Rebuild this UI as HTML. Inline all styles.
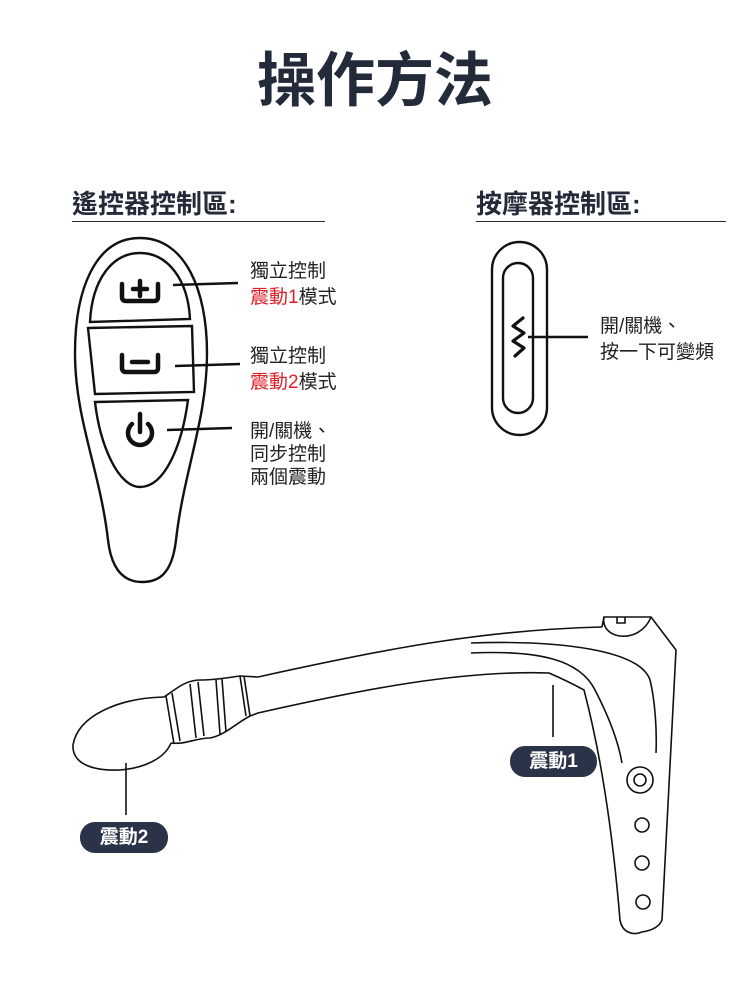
<!DOCTYPE html>
<html><head><meta charset="utf-8"><style>
html,body{margin:0;padding:0;background:#fff;}
body{width:750px;height:990px;position:relative;overflow:hidden;font-family:"Liberation Sans","Noto Sans CJK TC",sans-serif;}
.t{position:absolute;white-space:nowrap;}
.h{color:#232a3a;font-weight:bold;}
.lb{font-size:19px;color:#222;line-height:24px;}
.red{color:#e0202a;}
.pill{position:absolute;background:#2a3347;color:#fff;font-weight:bold;font-size:19px;border-radius:15px;text-align:center;line-height:31px;}
</style></head><body>
<div class="t h" style="left:0;width:750px;text-align:center;top:45px;font-size:59px;line-height:72px;">操作方法</div>
<div class="t h" style="left:72px;top:184px;font-size:26px;">遙控器控制區:</div>
<div style="position:absolute;left:72px;top:221px;width:253px;height:1px;background:#232a3a"></div>
<div class="t h" style="left:476px;top:184px;font-size:26px;">按摩器控制區:</div>
<div style="position:absolute;left:476px;top:221px;width:250px;height:1px;background:#232a3a"></div>

<svg width="750" height="990" style="position:absolute;left:0;top:0" fill="none" stroke="#111" stroke-width="2.4">
<!-- remote -->
<path d="M140,238 C95,238 75,290 75,353 C75,420 100,470 108,540 C112,575 128,582 142,582 C158,582 172,575 176,540 C184,470 207,420 207,353 C207,290 185,238 140,238 Z"/>
<path d="M90,322 C92,280 112,253 140,253 C168,253 188,280 190,319 Z"/>
<path d="M88,328 L192,326 L194,392 L95,394 Z"/>
<path d="M95,402 L188,400 C182,445 165,487 140,487 C118,487 100,445 95,402 Z"/>
<g stroke-width="4.5" stroke-linecap="round">
<path d="M122,284 V297 Q122,301 126,301 H154 Q158,301 158,297 V284"/><path d="M140,281 V296 M133,289 H147"/>
<path d="M122,355 V368 Q122,372 126,372 H154 Q158,372 158,368 V355"/><path d="M132,362 H148"/>
<path d="M132,424 A12,12 0 1 0 148,424"/><path d="M140,414 V432"/>
</g>
<path d="M173,285 L238,283 M175,366 L240,364 M167,430 L232,428"/>
<!-- massager control -->
<rect x="492" y="242" width="55" height="193" rx="27.5"/>
<rect x="503" y="263" width="30" height="150" rx="15"/>
<path d="M523,318 L513,326 L524,333 L513,341 L524,348 L515,356" stroke-width="3.2" stroke-linejoin="round" stroke-linecap="round"/>
<path d="M528,337 L588,337"/>
<!-- device -->
<g stroke-width="1.6">
<path d="M164,697 C120,698 78,715 73,745 C72,765 95,771 120,770 C145,768 165,758 171,743"/>
<path d="M164,697 C175,690 185,680 200,680 C215,680 225,678 240,676 L258,677 C380,650 480,630 602,627"/>
<path d="M171,743 C185,745 195,738 210,738 C225,735 235,724 250,716 L258,713 C360,690 460,670 549,673 C565,680 575,685 584,690 C605,770 615,860 620,920 C622,932 632,936 642,932 C655,930 660,925 662,920 L676,650 L651,617 L604,617 L602,627"/>
<path d="M604,617 C600,640 640,645 651,617"/>
<path d="M617,617 v6 h8 v-6"/>
<path d="M166,696 L174,744 M172,693 L180,741 M190,684 L196,738 M198,682 L204,736 M216,680 L220,734 M222,679 L226,732 M240,676 L246,716 M244,676 L250,716"/>
<path d="M471,643 C560,640 640,650 650,680 C655,700 657,730 656,753"/>
<path d="M471,653 C540,650 580,660 595,690 C608,715 618,740 622,763"/>
<path d="M553,685 V737 M126,763 V815"/>
<circle cx="640" cy="780" r="13"/><circle cx="640" cy="780" r="6"/>
<circle cx="642" cy="825" r="7"/><circle cx="642" cy="863" r="7"/><circle cx="643" cy="902" r="7"/>
</g>
</svg>

<div class="t lb" style="left:250px;top:260px;">獨立控制</div>
<div class="t lb" style="left:250px;top:286px;"><span class="red">震動1</span>模式</div>
<div class="t lb" style="left:250px;top:345px;">獨立控制</div>
<div class="t lb" style="left:250px;top:371px;"><span class="red">震動2</span>模式</div>
<div class="t lb" style="left:250px;top:420px;">開/關機、</div>
<div class="t lb" style="left:250px;top:443px;">同步控制</div>
<div class="t lb" style="left:250px;top:466px;">兩個震動</div>
<div class="t lb" style="left:600px;top:315px;">開/關機、</div>
<div class="t lb" style="left:600px;top:341px;">按一下可變頻</div>
<div class="pill" style="left:510px;top:746px;width:87px;">震動1</div>
<div class="pill" style="left:80px;top:822px;width:88px;">震動2</div>
</body></html>
